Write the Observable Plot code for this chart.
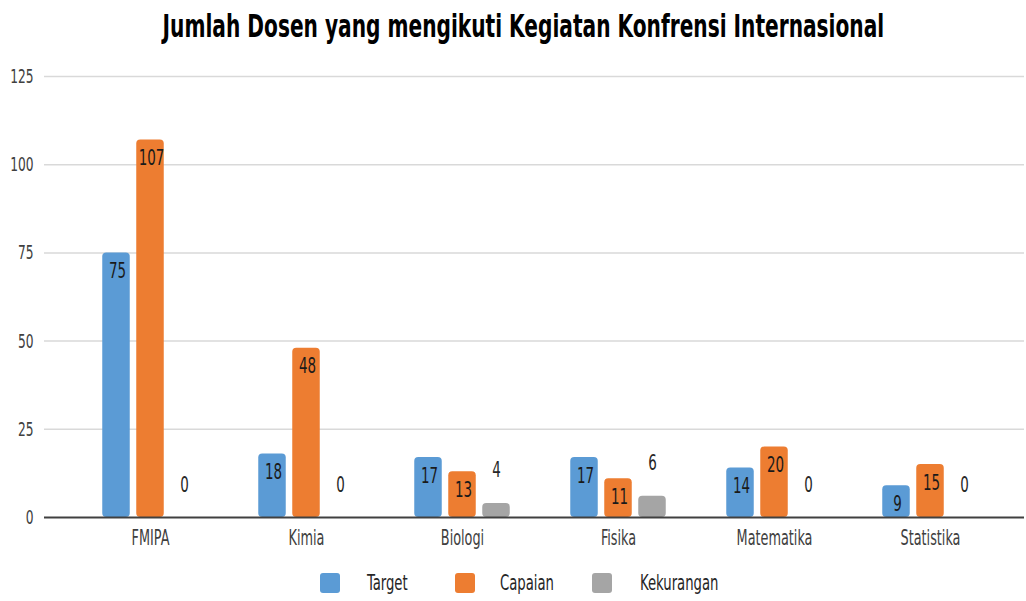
<!DOCTYPE html>
<html>
<head>
<meta charset="utf-8">
<script src="https://cdn.jsdelivr.net/npm/d3@7"></script>
<script src="https://cdn.jsdelivr.net/npm/@observablehq/plot@0.6"></script>
<style>
  html, body { margin: 0; padding: 0; background: #fff; overflow: hidden; }
  body { width: 1026px; height: 601px; position: relative; font-family: "Liberation Sans Narrow", "DejaVu Sans Condensed", "DejaVu Sans", sans-serif; }
  #title { height: 50px; text-align: center; position: relative; }
  #title span { display: inline-block; font-weight: bold; font-size: 32px; line-height: 52px; color: #000; transform: scaleX(0.70); transform-origin: center; margin-left: 8px; white-space: nowrap; }
  #legend { position: absolute; left: 0; top: 555px; width: 1026px; height: 46px; color: #262626; font-size: 21px; }
  .sw { position: absolute; top: 18px; width: 20px; height: 20px; border-radius: 3px; }
  .lt { position: absolute; top: 14px; line-height: 28px; transform: scaleX(0.70); transform-origin: left center; white-space: nowrap; }
  #chart svg { display: block; }
</style>
</head>
<body>
<div id="title"><span>Jumlah Dosen yang mengikuti Kegiatan Konfrensi Internasional</span></div>
<div id="chart"></div>
<div id="legend"></div>
<script>
const categories = ["FMIPA", "Kimia", "Biologi", "Fisika", "Matematika", "Statistika"];
const target = [75, 18, 17, 17, 14, 9];
const capaian = [107, 48, 13, 11, 20, 15];
const kekurangan = [0, 0, 4, 6, 0, 0];
const seriesNames = ["Target", "Capaian", "Kekurangan"];
const seriesColors = ["#5B9BD5", "#ED7D31", "#A5A5A5"];
const yTicks = [0, 25, 50, 75, 100, 125];

const rows = categories.map((c, i) => ({cat: c, target: target[i], capaian: capaian[i], kekurangan: kekurangan[i]}));

const font = '"Liberation Sans Narrow", "DejaVu Sans Condensed", "DejaVu Sans", sans-serif';
const barW = 28, step = 34;

function insets(k) {
  const band = 156.5;
  const side = (band - barW) / 2;
  return {insetLeft: side + k * step, insetRight: side - k * step};
}

const chart = Plot.plot({
  width: 1026,
  height: 505,
  marginTop: 26,
  marginBottom: 38,
  marginLeft: 44,
  marginRight: 2,
  style: {fontFamily: font, color: "#404040", background: "#fff"},
  x: {domain: categories, paddingInner: 0, paddingOuter: 0.131, align: 0.63, label: null},
  y: {domain: [0, 125], label: null},
  marks: [
    Plot.ruleY(yTicks.filter(t => t > 0), {stroke: "#d9d9d9", strokeWidth: 1.5}),
    Plot.barY(rows, {x: "cat", y: "target", fill: seriesColors[0], rx: 4, ...insets(-1)}),
    Plot.barY(rows, {x: "cat", y: "capaian", fill: seriesColors[1], rx: 4, ...insets(0)}),
    Plot.barY(rows, {x: "cat", y: "kekurangan", fill: seriesColors[2], rx: 4, ...insets(1)}),
    Plot.ruleY([0], {stroke: "#404040", strokeWidth: 2}),
    Plot.text(rows, {x: "cat", y: "target", text: d => String(d.target), dx: -step + 1, dy: 18, fontSize: 22, fill: "#1a1a1a"}),
    Plot.text(rows, {x: "cat", y: "capaian", text: d => String(d.capaian), dx: 1, dy: 18, fontSize: 22, fill: "#1a1a1a"}),
    Plot.text(rows, {x: "cat", y: "kekurangan", text: d => String(d.kekurangan), dx: step, dy: -33, fontSize: 22, fill: "#262626"}),
    Plot.axisY({ticks: yTicks, tickSize: 0, tickPadding: 11, fontSize: 20, label: null}),
    Plot.axisX({tickSize: 0, tickPadding: 13, fontSize: 21, label: null})
  ]
});

// condense all chart text horizontally (narrow display face)
const SX = 0.68;
chart.querySelectorAll("text").forEach(t => {
  const tr = t.getAttribute("transform");
  if (tr) {
    t.setAttribute("transform", tr + ` scale(${SX},1)`);
  } else {
    const x = +(t.getAttribute("x") || 0), y = +(t.getAttribute("y") || 0);
    t.setAttribute("x", 0); t.setAttribute("y", 0);
    t.setAttribute("transform", `translate(${x},${y}) scale(${SX},1)`);
  }
});
document.getElementById("chart").appendChild(chart);

const legend = document.getElementById("legend");
const swatchX = [320, 455, 592];
const labelX = [367, 500, 640];
seriesNames.forEach((name, i) => {
  const sw = document.createElement("div");
  sw.className = "sw";
  sw.style.left = swatchX[i] + "px";
  sw.style.background = seriesColors[i];
  const t = document.createElement("div");
  t.className = "lt";
  t.style.left = labelX[i] + "px";
  t.textContent = name;
  legend.appendChild(sw);
  legend.appendChild(t);
});
</script>
</body>
</html>
